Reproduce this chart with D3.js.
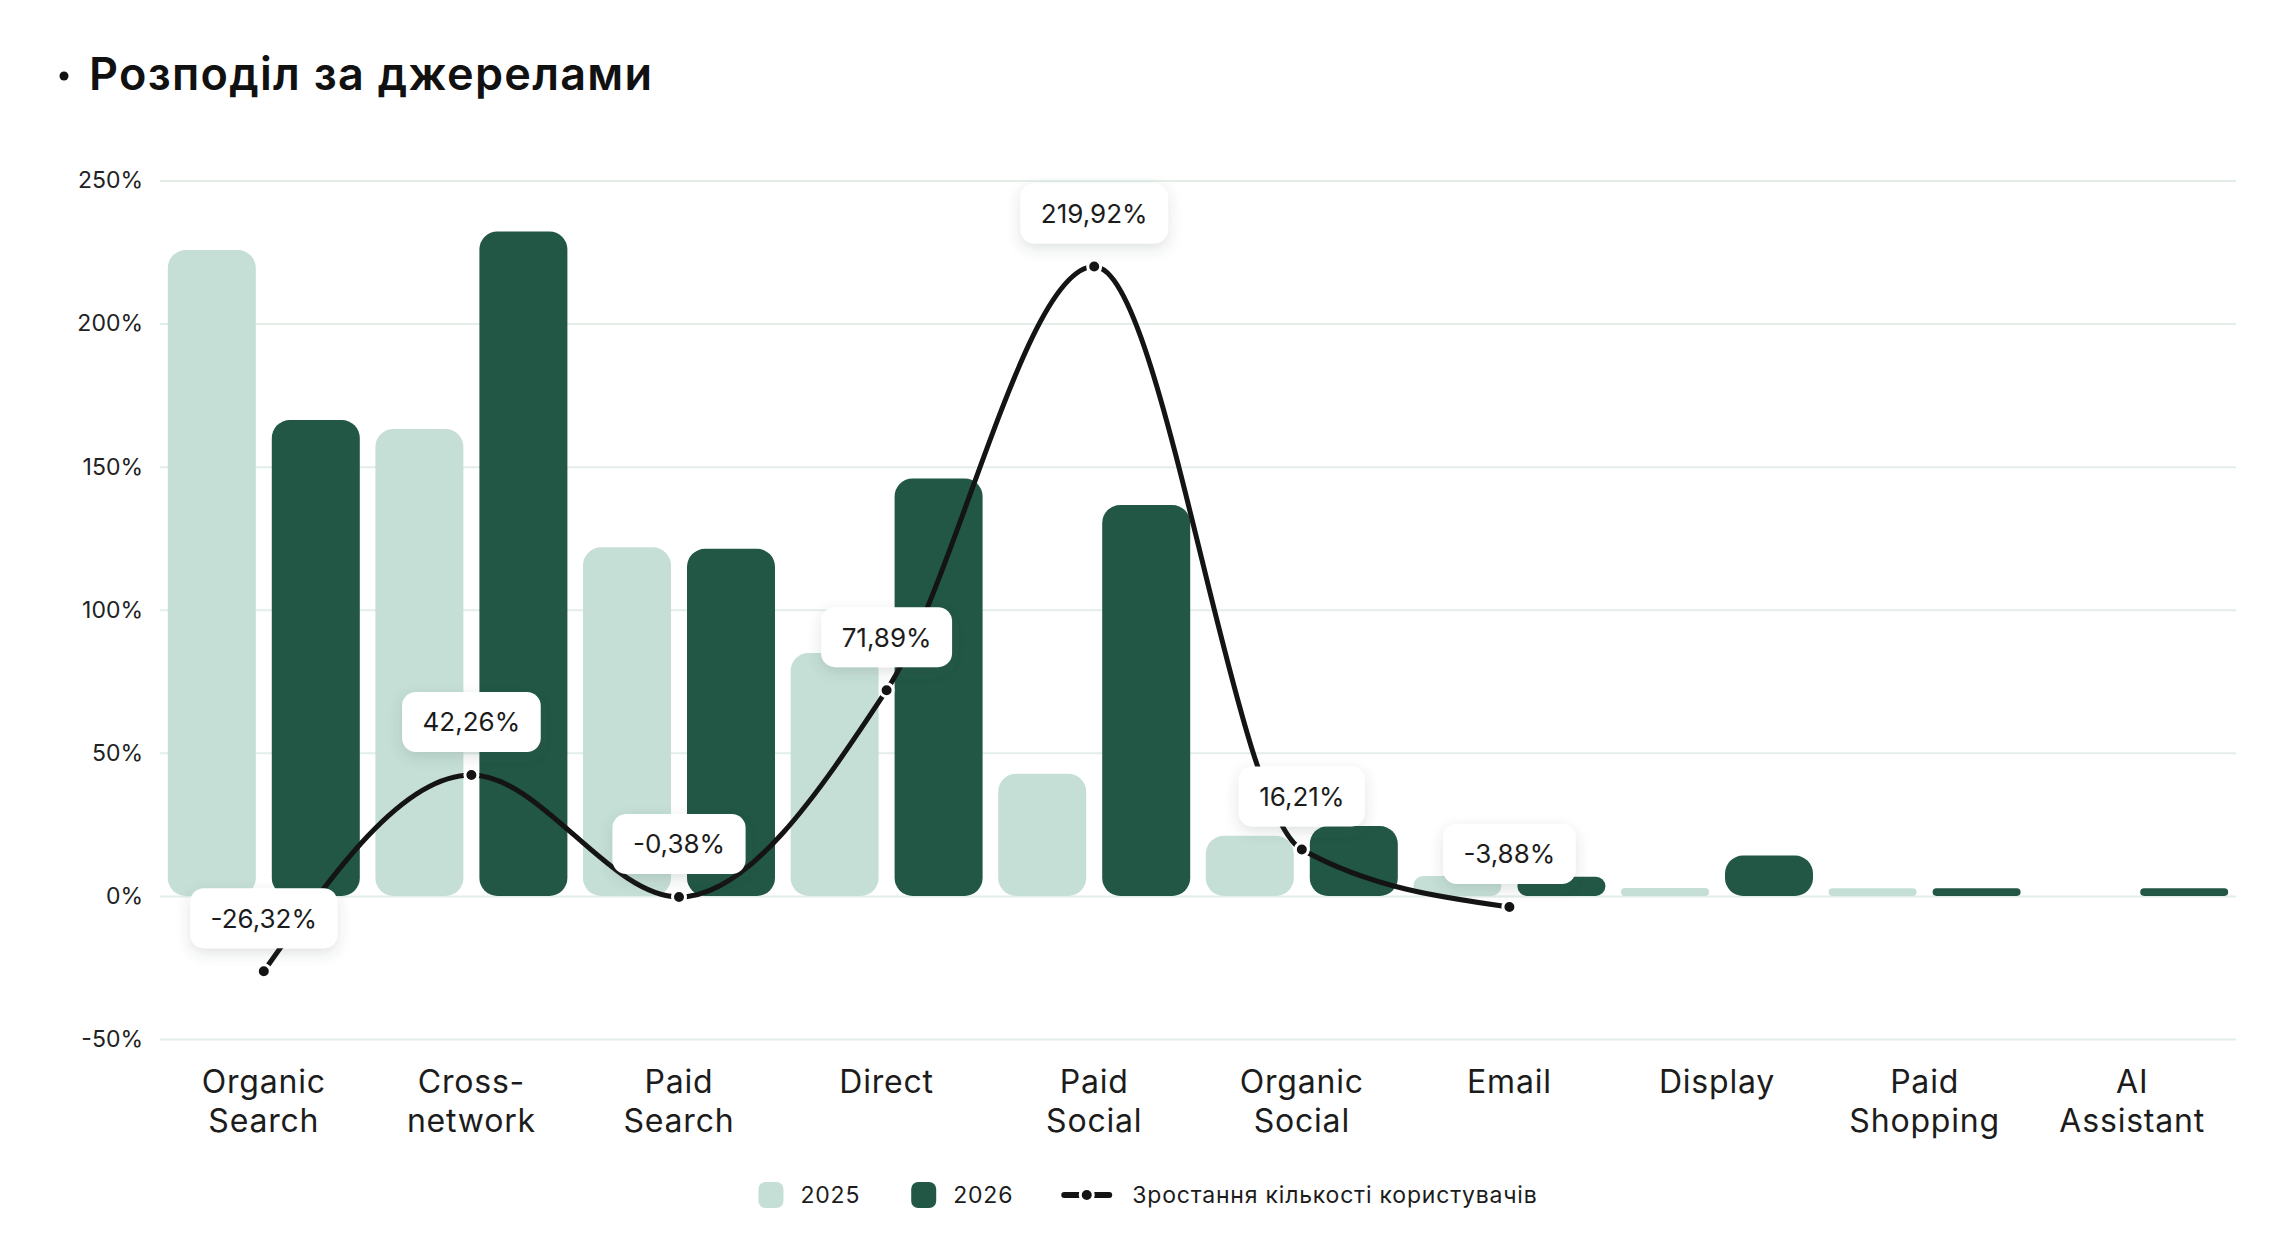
<!DOCTYPE html>
<html>
<head>
<meta charset="utf-8">
<script src="https://cdn.jsdelivr.net/npm/d3@7"></script>
<style>
  body { margin: 0; background: #fff; }
  svg { display: block; }
  text { font-family: Inter, "Noto Sans", sans-serif; fill: #1c1c1c; }
</style>
</head>
<body>
<div id="chart"></div>
<script>
// data
var categories = ["Organic Search", "Cross-network", "Paid Search", "Direct", "Paid Social",
                  "Organic Social", "Email", "Display", "Paid Shopping", "AI Assistant"];
var tickLabels = [["Organic", "Search"], ["Cross-", "network"], ["Paid", "Search"], ["Direct"],
                  ["Paid", "Social"], ["Organic", "Social"], ["Email"], ["Display"],
                  ["Paid", "Shopping"], ["AI", "Assistant"]];
var values2025 = [225.7, 163.2, 121.8, 84.9, 42.7, 21.0, 7.0, 2.8, 2.7, 0];
var values2026 = [166.3, 232.2, 121.3, 145.9, 136.6, 24.4, 6.7, 14.1, 2.7, 2.7];
var growth = [-26.32, 42.26, -0.38, 71.89, 219.92, 16.21, -3.88, null, null, null];
var yTicks = [-50, 0, 50, 100, 150, 200, 250];
var seriesNames = ["2025", "2026", "Зростання кількості користувачів"];
var title = "Розподіл за джерелами";

var W = 2296, H = 1246;
var plot = {left: 160, right: 2236, top: 180.5, bottom: 1039};
var color2025 = "#c5dfd6", color2026 = "#215744", lineColor = "#141414";

var svg = d3.select("#chart").append("svg")
  .attr("width", W).attr("height", H);

// soft shadow for the value boxes
var defs = svg.append("defs");
defs.append("filter").attr("id", "shadow")
  .attr("x", "-30%").attr("y", "-30%").attr("width", "160%").attr("height", "190%")
  .append("feDropShadow")
    .attr("dx", 0).attr("dy", 5).attr("stdDeviation", 7)
    .attr("flood-color", "#3a4a50").attr("flood-opacity", 0.16);

// title
svg.append("circle").attr("cx", 64).attr("cy", 76).attr("r", 4.5).attr("fill", "#111");
svg.append("text").attr("x", 89).attr("y", 90)
  .attr("font-size", "45px").attr("font-weight", 600).attr("letter-spacing", "1.3px")
  .style("fill", "#111")
  .text(title);

var x = d3.scaleBand().domain(categories).range([plot.left, plot.right]).padding(0);
var y = d3.scaleLinear().domain([-50, 250]).range([plot.bottom, plot.top]);

// y axis + grid
var yAxis = svg.append("g")
  .attr("transform", "translate(" + plot.left + ",0)")
  .call(d3.axisLeft(y).tickValues(yTicks).tickSize(-(plot.right - plot.left))
    .tickPadding(17).tickFormat(function(d) { return d + "%"; }));
yAxis.select(".domain").remove();
yAxis.selectAll(".tick line").attr("stroke", "#e2eee6").attr("stroke-width", 2);
yAxis.selectAll(".tick text").attr("font-size", "23px").style("fill", "#222")
  .attr("font-family", "Inter");

// x axis (multi-line labels)
var xAxis = svg.append("g")
  .attr("transform", "translate(0," + plot.bottom + ")")
  .call(d3.axisBottom(x).tickSize(0));
xAxis.select(".domain").remove();
xAxis.selectAll(".tick text").each(function(d, i) {
  var t = d3.select(this).text(null).attr("y", 0).attr("dy", null)
    .attr("font-size", "32px").attr("letter-spacing", "0.8px")
    .attr("font-family", "Inter").style("fill", "#1c1c1c");
  tickLabels[i].forEach(function(line, k) {
    t.append("tspan").attr("x", 0).attr("y", 54 + k * 39).text(line);
  });
});

// bars
var barW = 88, innerGap = 16, maxR = 18;
function barRect(sel, vals, offset, fill) {
  sel.selectAll(null).data(categories).enter().append("rect")
    .attr("x", function(d) { return x(d) + x.bandwidth() / 2 + offset; })
    .attr("y", function(d, i) { return y(vals[i]); })
    .attr("width", barW)
    .attr("height", function(d, i) { return Math.max(0, y(0) - y(vals[i])); })
    .attr("rx", function(d, i) { return Math.min(maxR, (y(0) - y(vals[i])) / 2); })
    .attr("fill", fill);
}
var bars = svg.append("g");
barRect(bars, values2025, -innerGap / 2 - barW, color2025);
barRect(bars, values2026, innerGap / 2, color2026);

// growth line
var pts = categories.map(function(c, i) { return {c: c, v: growth[i]}; })
  .filter(function(d) { return d.v !== null; });
var line = d3.line()
  .x(function(d) { return x(d.c) + x.bandwidth() / 2; })
  .y(function(d) { return y(d.v); })
  .curve(d3.curveMonotoneX);
svg.append("path").datum(pts).attr("d", line)
  .attr("fill", "none").attr("stroke", lineColor).attr("stroke-width", 5)
  .attr("stroke-linecap", "round");
svg.append("g").selectAll("circle").data(pts).enter().append("circle")
  .attr("cx", function(d) { return x(d.c) + x.bandwidth() / 2; })
  .attr("cy", function(d) { return y(d.v); })
  .attr("r", 6.5).attr("fill", lineColor).attr("stroke", "#fff").attr("stroke-width", 3);

// value boxes
var fmt = d3.formatLocale({decimal: ",", thousands: " ", grouping: [3],
  currency: ["", ""], minus: "-"}).format(".2f");
var labels = svg.append("g").selectAll("g").data(pts).enter().append("g")
  .attr("transform", function(d) {
    return "translate(" + (x(d.c) + x.bandwidth() / 2) + "," + (y(d.v) - 53) + ")";
  });
labels.each(function(d) {
  var g = d3.select(this);
  var box = g.append("rect").attr("fill", "#fff").attr("filter", "url(#shadow)");
  var t = g.append("text").attr("text-anchor", "middle").attr("dy", "0.36em")
    .attr("font-size", "26px").style("fill", "#1c1c1c").text(fmt(d.v) + "%");
  var w = t.node().getComputedTextLength() + 41;
  box.attr("x", -w / 2).attr("y", -30).attr("width", w).attr("height", 60).attr("rx", 14);
});

// legend
var legend = svg.append("g").attr("transform", "translate(0,1195)");
var lx = 0;
var items = legend.append("g");
[color2025, color2026].forEach(function(col, i) {
  items.append("rect").attr("x", lx).attr("y", -13).attr("width", 25).attr("height", 26)
    .attr("rx", 7).attr("fill", col);
  var t = items.append("text").attr("x", lx + 42).attr("dy", "0.35em")
    .attr("font-size", "23px").attr("letter-spacing", "0.8px").text(seriesNames[i]);
  lx += 42 + t.node().getComputedTextLength() + 51;
});
items.append("line").attr("x1", lx).attr("x2", lx + 45).attr("y1", 0).attr("y2", 0)
  .attr("stroke", lineColor).attr("stroke-width", 6).attr("stroke-linecap", "round");
items.append("circle").attr("cx", lx + 22.5).attr("cy", 0).attr("r", 6.5)
  .attr("fill", lineColor).attr("stroke", "#fff").attr("stroke-width", 3);
var lt = items.append("text").attr("x", lx + 68).attr("dy", "0.35em")
  .attr("font-size", "23px").attr("letter-spacing", "0.8px").text(seriesNames[2]);
var totalW = lx + 68 + lt.node().getComputedTextLength();
items.attr("transform", "translate(" + (W / 2 - totalW / 2) + ",0)");
</script>
</body>
</html>
